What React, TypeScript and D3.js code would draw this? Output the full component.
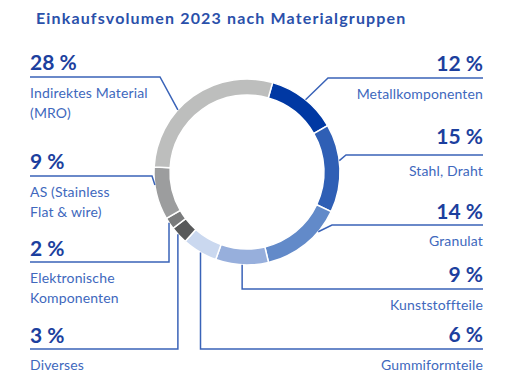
import React, { useEffect, useRef } from 'react';
import * as d3 from 'd3';

// Einkaufsvolumen nach Materialgruppen (clockwise, starting at Metallkomponenten)
const categories = [
  'Metallkomponenten',
  'Stahl, Draht',
  'Granulat',
  'Kunststoffteile',
  'Gummiformteile',
  'Diverses',
  'Elektronische Komponenten',
  'AS (Stainless Flat & wire)',
  'Indirektes Material (MRO)',
];
const shares = [12, 15, 14, 9, 6, 3, 2, 9, 28];
const labelLines = [
  ['Metallkomponenten'],
  ['Stahl, Draht'],
  ['Granulat'],
  ['Kunststoffteile'],
  ['Gummiformteile'],
  ['Diverses'],
  ['Elektronische', 'Komponenten'],
  ['AS (Stainless', 'Flat & wire)'],
  ['Indirektes Material', '(MRO)'],
];
const colors = ['#0038a3', '#2f5fb5', '#628ac9', '#97afdc', '#cad8ef', '#58595a', '#7a7b7c', '#9c9d9e', '#bdbebd'];

// leader layout: side, y of horizontal rule, elbow x (null = vertical drop), angle on ring (deg)
const leaders = [
  { side: 'right', lineY: 78, elbowX: 328, angle: 39, pctDy: -7 },
  { side: 'right', lineY: 155, elbowX: 346, angle: 83, pctDy: -11 },
  { side: 'right', lineY: 225, elbowX: 332, angle: 130, pctDy: -6 },
  { side: 'right', lineY: 289, elbowX: null, angle: 183, pctDy: -7 },
  { side: 'right', lineY: 349, elbowX: null, angle: 210, pctDy: -7 },
  { side: 'left', lineY: 349, elbowX: null, angle: 228, pctDy: -6 },
  { side: 'left', lineY: 262, elbowX: null, angle: 237, pctDy: -6 },
  { side: 'left', lineY: 176, elbowX: 152, angle: 262, pctDy: -7 },
  { side: 'left', lineY: 77, elbowX: 160, angle: 312, pctDy: -7 },
];

const App = () => {
  const svgRef = useRef<SVGSVGElement>(null);

  useEffect(() => {
    if (!svgRef.current) return;
    const svg = d3.select(svgRef.current);
    svg.selectAll('*').remove();

    const width = 515;
    const height = 386;
    const cx = 247;
    const cy = 172;
    const outerR = 93;
    const innerR = 77;
    const leftX = 30;
    const rightX = 483;
    const font = 'Lato, "Open Sans", sans-serif';

    svg.attr('width', width).attr('height', height);

    // title
    svg.append('text')
      .attr('x', 36)
      .attr('y', 24)
      .attr('font-family', font)
      .attr('font-size', 16)
      .attr('font-weight', 700)
      .attr('letter-spacing', 1.15)
      .attr('fill', '#2a50aa')
      .text('Einkaufsvolumen 2023 nach Materialgruppen');

    const start = (16 * Math.PI) / 180;
    const pie = d3.pie<number>().sort(null).value(d => d).startAngle(start).endAngle(start + 2 * Math.PI);
    const arc = d3.arc<d3.PieArcDatum<number>>().innerRadius(innerR).outerRadius(outerR);

    const g = svg.append('g').attr('transform', `translate(${cx},${cy})`);
    g.selectAll('path')
      .data(pie(shares))
      .enter()
      .append('path')
      .attr('d', arc)
      .attr('fill', (_, i) => colors[i])
      .attr('stroke', '#fff')
      .attr('stroke-width', 1.5);

    const lineColor = '#3a63b8';

    categories.forEach((cat, i) => {
      const l = leaders[i];
      const a = (l.angle * Math.PI) / 180;
      const px = cx + outerR * Math.sin(a);
      const py = cy - outerR * Math.cos(a);
      const endX = l.side === 'left' ? leftX : rightX;
      const pts: [number, number][] = l.elbowX === null
        ? [[endX, l.lineY], [px, l.lineY], [px, py]]
        : [[endX, l.lineY], [l.elbowX, l.lineY], [px, py]];

      svg.append('path')
        .attr('d', d3.line()(pts))
        .attr('fill', 'none')
        .attr('stroke', lineColor)
        .attr('stroke-width', 1.5);

      const anchor = l.side === 'left' ? 'start' : 'end';

      svg.append('text')
        .attr('x', endX)
        .attr('y', l.lineY + l.pctDy)
        .attr('text-anchor', anchor)
        .attr('font-family', font)
        .attr('font-size', 21)
        .attr('font-weight', 700)
        .attr('fill', '#1c3f9e')
        .text(`${shares[i]} %`);

      const t = svg.append('text')
        .attr('x', endX)
        .attr('y', l.lineY + 21)
        .attr('text-anchor', anchor)
        .attr('font-family', font)
        .attr('font-size', 14)
        .attr('letter-spacing', 0.15)
        .attr('fill', '#4068bd')
        .attr('aria-label', cat);
      labelLines[i].forEach((ln, j) => {
        t.append('tspan')
          .attr('x', endX)
          .attr('dy', j === 0 ? 0 : 19.5)
          .text(ln);
      });
    });
  }, []);

  return (
    <div style={{ position: 'absolute', left: 0, top: 0, width: 515, height: 386, background: '#fff' }}>
      <svg ref={svgRef} width={515} height={386} style={{ display: 'block' }} />
    </div>
  );
};

export default App;
